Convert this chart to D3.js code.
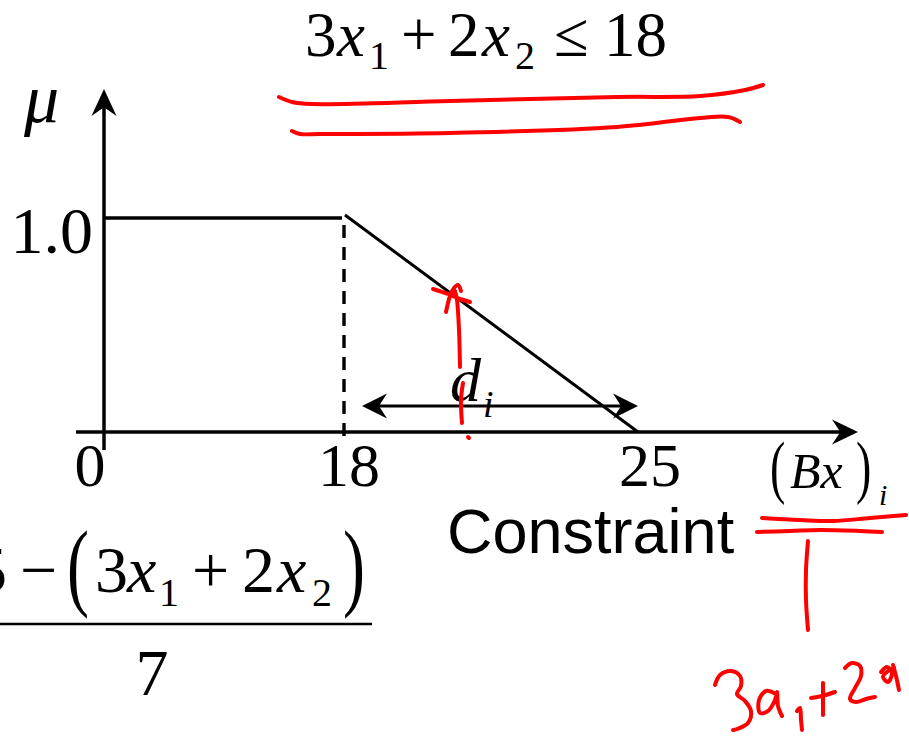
<!DOCTYPE html>
<html>
<head>
<meta charset="utf-8">
<script src="https://cdn.jsdelivr.net/npm/d3@7/dist/d3.min.js"></script>
<style>
  html, body { margin: 0; padding: 0; background: #fff; }
  svg { display: block; }
  .serif { font-family: "Liberation Serif", "Times New Roman", serif; fill: #000; }
  .sans { font-family: "Liberation Sans", Arial, sans-serif; fill: #000; }
</style>
</head>
<body>
<svg id="chart" width="909" height="736"></svg>
<script>
// Breakpoints of the constraint's membership function (Bx)_i
const breakpoints = [0, 18, 25];
const membership = [1.0, 1.0, 0.0];
const xTickValues = [0, 18, 25];
const xTickLabels = ["0", "18", "25"];
const yTickValues = [1.0];
const yTickLabels = ["1.0"];
// tolerance interval d_i spans from the bound to the bound plus the tolerance
const toleranceSpan = [18, 25];

// Hand-written ink strokes (pixel space)
const inkStrokes = [
  // double underline of the title
  [[279,97],[292,102],[312,104],[450,101],[617,97],[700,96],[745,90],[763,85]],
  [[292,131],[300,134],[320,134],[450,133],[617,127],[700,118],[728,117],[740,122]],
  // upward arrow towards the sloped edge
  [[460,367],[459,330],[457,300],[455,291]],
  [[446,312],[450,296],[454,288],[458,285],[461,291]],
  [[433,289],[448,294],[460,299],[470,302]],
  // stroke through d_i and the dot below
  [[463,383],[461,400],[462,423]],
  [[468,437],[469,438]],
  // double line beside the axis label
  [[762,518],[800,520],[833,521],[870,518],[906,515]],
  [[757,532],[790,531],[820,530],[860,531],[882,532]],
  [[808,541],[806,570],[806,600],[808,630]],
  // handwritten "3x1+2x"
  [[715,685],[720,675],[731,671],[740,676],[741,686],[737,694],[745,701],[751,711],[748,723],[737,729],[733,730]],
  [[776,694],[766,691],[759,700],[760,713],[768,711],[775,700],[777,692],[778,706],[782,716]],
  [[797,711],[800,708],[801,720],[802,730]],
  [[811,698],[822,696],[835,692]],
  [[823,683],[823,700],[823,715]],
  [[845,668],[852,663],[860,666],[861,676],[855,688],[850,699],[856,702],[866,699],[875,697]],
  [[881,672],[887,667],[892,673],[888,682],[883,677],[888,671],[894,668]],
  [[893,665],[896,676],[899,690]]
];

const svg = d3.select("#chart");

// piecewise scale: the axis is schematic, so each interval gets its own stretch
const x = d3.scaleLinear().domain(breakpoints).range([104, 344, 638]);
const y = d3.scaleLinear().domain([0, 1]).range([432, 218]);

const arrowHead = (len, half) => `M0,0L${-len},${-half}L${-len * 0.68},0L${-len},${half}Z`;

// small helper for the typeset math pieces
function put(px, py, str, size, italic, anchor) {
  return svg.append("text").attr("class", "serif")
    .attr("x", px).attr("y", py)
    .attr("text-anchor", anchor || "start")
    .style("font-size", size + "px")
    .style("font-style", italic ? "italic" : "normal")
    .text(str);
}
// tall thin delimiter: a normal glyph stretched vertically
function paren(px, py, str, size, stretch) {
  return svg.append("text").attr("class", "serif")
    .attr("transform", `translate(${px},${py}) scale(1,${stretch})`)
    .style("font-size", size + "px")
    .text(str);
}

// ---- axes ----
const axisG = svg.append("g");
axisG.append("line")
  .attr("x1", 76).attr("x2", 850).attr("y1", y(0)).attr("y2", y(0))
  .attr("stroke", "#000").attr("stroke-width", 3.5);
axisG.append("path")
  .attr("d", arrowHead(26, 12.5))
  .attr("transform", `translate(858,${y(0)})`)
  .attr("fill", "#000");

axisG.append("line")
  .attr("x1", x(0)).attr("x2", x(0)).attr("y1", 450).attr("y2", 96)
  .attr("stroke", "#000").attr("stroke-width", 3.5);
axisG.append("path")
  .attr("d", arrowHead(27, 12.5))
  .attr("transform", `translate(${x(0)},89) rotate(-90)`)
  .attr("fill", "#000");

// ---- membership function ----
const pts = breakpoints.map((b, i) => [x(b), y(membership[i])]);
svg.append("line")
  .attr("x1", pts[0][0]).attr("y1", pts[0][1]).attr("x2", pts[1][0] - 2).attr("y2", pts[1][1])
  .attr("stroke", "#000").attr("stroke-width", 3.5);
svg.append("line")
  .attr("x1", pts[1][0] + 1).attr("y1", pts[1][1] - 3).attr("x2", pts[2][0]).attr("y2", pts[2][1])
  .attr("stroke", "#000").attr("stroke-width", 3);

// dashed drop line at the bound
svg.append("line")
  .attr("x1", x(18)).attr("x2", x(18)).attr("y1", y(1) + 7).attr("y2", y(0) + 6)
  .attr("stroke", "#000").attr("stroke-width", 3.4)
  .attr("stroke-dasharray", "13,9");

// ---- d_i double arrow ----
const dy = 406;
const dl = x(toleranceSpan[0]) + 18, dr = x(toleranceSpan[1]);
svg.append("line")
  .attr("x1", dl + 8).attr("x2", dr - 8).attr("y1", dy).attr("y2", dy)
  .attr("stroke", "#000").attr("stroke-width", 2.8);
svg.append("path").attr("d", arrowHead(25, 12.5))
  .attr("transform", `translate(${dr},${dy})`).attr("fill", "#000");
svg.append("path").attr("d", arrowHead(25, 12.5))
  .attr("transform", `translate(${dl},${dy}) rotate(180)`).attr("fill", "#000");

put(450, 401, "d", 62, true);
put(483, 417, "i", 38, true);

// ---- tick labels ----
const tickNudge = [-14, 5, 12];
svg.append("g").selectAll("text")
  .data(xTickValues)
  .join("text")
  .attr("class", "serif")
  .attr("x", (d, i) => x(d) + tickNudge[i])
  .attr("y", 486)
  .attr("text-anchor", "middle")
  .style("font-size", "62px")
  .text((d, i) => xTickLabels[i]);

svg.append("g").selectAll("text")
  .data(yTickValues)
  .join("text")
  .attr("class", "serif")
  .attr("x", 93)
  .attr("y", y(1) + 35)
  .attr("text-anchor", "end")
  .style("font-size", "66px")
  .text((d, i) => yTickLabels[i]);

// axis names
put(24, 122, "μ", 70, true);

paren(770, 490, "(", 46, 1.5);
put(790, 488, "Bx", 50, true);
paren(856, 490, ")", 46, 1.5);
put(879, 505, "i", 30, true);

svg.append("text").attr("class", "sans").attr("x", 447).attr("y", 553)
  .style("font-size", "63px").text("Constraint");

// ---- title: the crisp constraint ----
const ty = 56;
put(305, ty, "3", 63);
put(337, ty, "x", 63, true);
put(369, ty + 13, "1", 40);
put(401, ty, "+", 63);
put(448, ty, "2", 63);
put(482, ty, "x", 63, true);
put(515, ty + 13, "2", 40);
put(554, ty, "≤", 63);
put(604, ty, "18", 63);

// ---- membership formula (partly off the left edge) ----
const ny = 592;
put(-26, ny, "5", 66);
put(20, ny, "−", 66);
paren(67, 598, "(", 66, 1.48);
put(95, ny, "3", 66);
put(127, ny, "x", 66, true);
put(159, ny + 14, "1", 40);
put(192, ny, "+", 66);
put(242, ny, "2", 66);
put(277, ny, "x", 66, true);
put(312, ny + 14, "2", 40);
paren(343, 598, ")", 66, 1.48);
svg.append("line").attr("x1", 0).attr("x2", 372).attr("y1", 624).attr("y2", 624)
  .attr("stroke", "#000").attr("stroke-width", 2.4);
put(152, 695, "7", 66, false, "middle");

// ---- red ink ----
const ink = d3.line().curve(d3.curveCatmullRom.alpha(0.5));
svg.append("g").selectAll("path")
  .data(inkStrokes)
  .join("path")
  .attr("d", ink)
  .attr("fill", "none")
  .attr("stroke", "#ff0000")
  .attr("stroke-width", 4)
  .attr("stroke-linecap", "round")
  .attr("stroke-linejoin", "round");
</script>
</body>
</html>
